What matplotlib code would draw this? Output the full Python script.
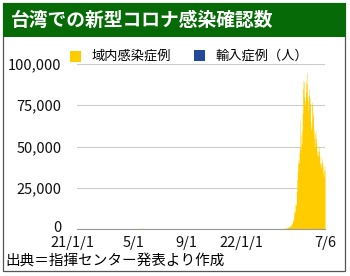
import numpy as np
import pandas as pd
import matplotlib
matplotlib.use("Agg")
import matplotlib.pyplot as plt
import matplotlib.transforms as mtransforms
from matplotlib.patches import Rectangle

plt.rcParams['font.family'] = ['Noto Sans CJK JP', 'DejaVu Sans']

# -------------------------------------------
# Data
# -------------------------------------------
title = "台湾での新型コロナ感染確認数"
source = "出典＝指揮センター発表より作成"
legend_labels = ["域内感染症例", "輸入症例（人）"]

start_date = "2021-01-01"
end_date = "2022-07-06"

# 2021 wave (daily, from 2021-05-15) -- too small to see at this scale
wave2021_start = "2021-05-15"
wave2021 = [180, 206, 333, 240, 267, 321, 312, 300, 350, 600, 540, 460,
            400, 350, 320, 300, 280, 250, 240, 230, 200, 190, 180, 170,
            150, 140, 130, 120, 110, 100, 90, 80, 75, 70, 60, 55]

# 2022 Omicron surge (daily, from 2022-04-01)
surge_start = "2022-04-01"
surge = [200, 150, 180, 250, 300, 350, 380, 400, 450, 500,
         600, 700, 800, 1000, 1100, 1200, 1300, 1400, 1600, 1800,
         2000, 2500, 3000, 3700, 4500, 5200, 6200, 11000, 9000, 10500,
         15000, 14000, 15500, 23000, 30000, 35000, 40000, 42000, 40000, 46000,
         50000, 65000, 57000, 48000, 52000, 60000, 70000, 85000, 90000, 89000,
         80000, 75000, 78000, 83000, 90000, 88000, 94800, 80000, 72000, 78000, 85000,
         81000, 80000, 76000, 65000, 60000, 62000, 77000, 75000, 70000, 68000,
         60000, 55000, 50000, 58000, 60000, 55000, 52000, 47000, 45000, 44000,
         48000, 50000, 47000, 44000, 40000, 39000, 37000, 41000, 43000, 40000,
         38000, 34000, 32000, 36000, 38000, 35000]

xtick_dates = ["2021-01-01", "2021-05-01", "2021-09-01", "2022-01-01", "2022-07-06"]
xtick_labels = ["21/1/1", "5/1", "9/1", "22/1/1", "7/6"]
ytick_values = [0, 25000, 50000, 75000, 100000]
ytick_labels = ["0", "25,000", "50,000", "75,000", "100,000"]

yellow = "#ffcc00"
blue = "#24489a"
green = "#066b06"

# build the daily series
days = pd.date_range(start_date, end_date, freq="D")
domestic = pd.Series(0.0, index=days)
d1 = pd.date_range(wave2021_start, periods=len(wave2021), freq="D")
domestic.loc[d1] = wave2021
d2 = pd.date_range(surge_start, periods=len(surge), freq="D")
domestic.loc[d2] = surge

# -------------------------------------------
# Figure
# -------------------------------------------
W, H = 350, 276
fig = plt.figure(figsize=(W / 100, H / 100), dpi=100)
fig.patch.set_facecolor("white")

def px(x, y):
    # image pixel -> figure fraction
    return x / W, 1 - y / H

# outer frame
fig.patches.append(Rectangle(px(3, 271), 342 / W, 268 / H, transform=fig.transFigure,
                             fill=False, edgecolor="#555555", linewidth=0.9))
# title bar
fig.patches.append(Rectangle(px(3, 37), 343 / W, 34 / H, transform=fig.transFigure,
                             facecolor=green, edgecolor="none"))
fig.text(*px(11, 20), title, color="white", fontsize=13.5, fontweight="bold",
         va="center", ha="left")

# axes
l, b = px(77, 229)
ax = fig.add_axes([l, b, (325 - 77) / W, (229 - 64) / H])
ax.fill_between(domestic.index, 0, domestic.values, color=yellow, linewidth=0,
                step="mid")
ax.set_xlim(pd.Timestamp(start_date), pd.Timestamp(end_date))
ax.set_ylim(0, 100000)

ax.set_yticks(ytick_values)
ax.set_yticklabels(ytick_labels)
ax.set_xticks([pd.Timestamp(d) for d in xtick_dates])
ax.set_xticklabels(xtick_labels)
ax.tick_params(axis="both", length=0, labelsize=10.5, colors="#111111")
ax.tick_params(axis="y", pad=11)
ax.tick_params(axis="x", pad=5)
ax.grid(axis="y", color="#cccccc", linewidth=0.8)
ax.set_axisbelow(True)
for s in ["top", "right", "left"]:
    ax.spines[s].set_visible(False)
ax.spines["bottom"].set_color("#999999")
ax.spines["bottom"].set_linewidth(0.8)

# nudge the first two date labels, as in the reference
for lab, dx in zip(ax.get_xticklabels()[:2], [-5, 3]):
    lab.set_transform(lab.get_transform() +
                      mtransforms.ScaledTranslation(dx / 100, 0, fig.dpi_scale_trans))
# lift the "0" a little so it clears the date labels
zero_lab = ax.get_yticklabels()[0]
zero_lab.set_transform(zero_lab.get_transform() +
                       mtransforms.ScaledTranslation(0, 2.5 / 100, fig.dpi_scale_trans))

# legend
fig.patches.append(Rectangle(px(70, 62), 11 / W, 11 / H, transform=fig.transFigure,
                             facecolor=yellow, edgecolor="none"))
fig.text(*px(91, 56), legend_labels[0], fontsize=9.5, va="center", ha="left")
fig.patches.append(Rectangle(px(194, 61), 11 / W, 11 / H, transform=fig.transFigure,
                             facecolor=blue, edgecolor="none"))
fig.text(*px(215, 56), legend_labels[1], fontsize=9.5, va="center", ha="left")

# source
fig.text(*px(5, 262), source, fontsize=10.5, va="center", ha="left")

fig.savefig("out.png", dpi=100)
